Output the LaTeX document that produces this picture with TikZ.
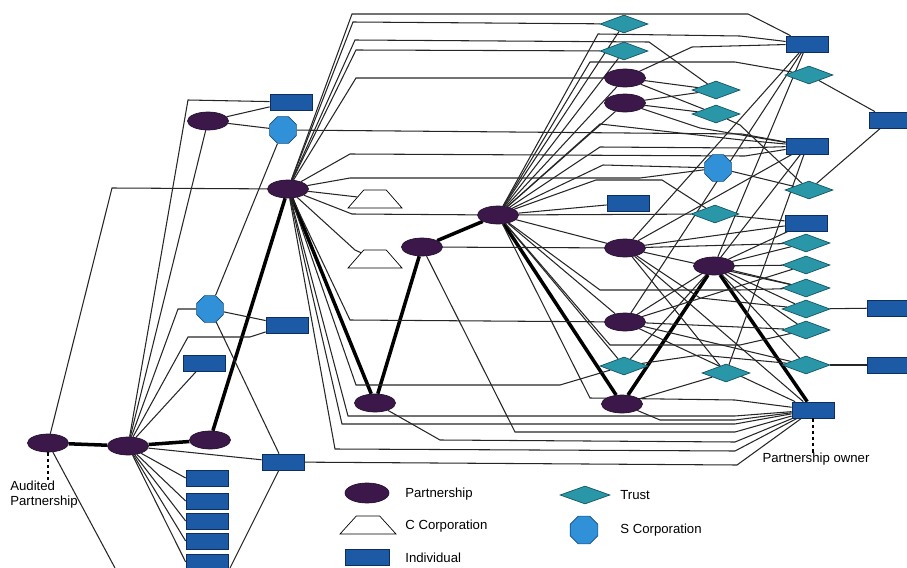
\documentclass[tikz,border=0pt]{standalone}
\usepackage{fontspec}
\setmainfont{Liberation Sans}
\usetikzlibrary{shapes.geometric,backgrounds}
\definecolor{plum}{HTML}{3B1849}
\definecolor{plumline}{HTML}{24102E}
\definecolor{indblue}{HTML}{1D5AA6}
\definecolor{indline}{HTML}{0E2F5E}
\definecolor{trteal}{HTML}{2A97A8}
\definecolor{trline}{HTML}{135562}
\definecolor{scblue}{HTML}{3090D8}
\definecolor{scline}{HTML}{164E80}
\tikzset{
  partner/.style={ellipse, draw=plumline, fill=plum, minimum width=0.82cm, minimum height=0.36cm, inner sep=0pt},
  indiv/.style={rectangle, draw=indline, fill=indblue, minimum width=0.84cm, minimum height=0.32cm, inner sep=0pt},
  trust/.style={diamond, draw=trline, fill=trteal, minimum width=0.96cm, minimum height=0.36cm, inner sep=0pt},
  scorp/.style={regular polygon, regular polygon sides=8, draw=scline, fill=scblue, minimum size=0.58cm, inner sep=0pt},
  ccorp/.style={trapezium, trapezium stretches=true, trapezium left angle=55, trapezium right angle=55,
    draw=black, fill=white, minimum width=1.08cm, minimum height=0.36cm, inner sep=1pt},
  link/.style={draw=black!85, line width=0.6pt},
  own/.style={draw=black, line width=2pt},
  lbl/.style={font=\fontsize{7.5}{8.5}\selectfont, inner sep=0pt}
}

\begin{document}
\begin{tikzpicture}[x=0.02cm, y=-0.02cm]
  \useasboundingbox (0,0) rectangle (907,568);
  %% partnerships
  \node[partner] (p1)  at (48,443) {};
  \node[partner] (p2)  at (128,446) {};
  \node[partner] (p3)  at (210,440) {};
  \node[partner] (p4)  at (208,121) {};
  \node[partner] (p5)  at (288,189) {};
  \node[partner] (p6)  at (375,403) {};
  \node[partner] (p7)  at (422,247) {};
  \node[partner] (p8)  at (498,215) {};
  \node[partner] (p9)  at (625,78) {};
  \node[partner] (p10) at (625,103) {};
  \node[partner] (p11) at (625,248) {};
  \node[partner] (p12) at (625,322) {};
  \node[partner] (p13) at (622,404) {};
  \node[partner] (p14) at (714,266) {};
  %% individuals
  \node[indiv] (ind1)  at (291,102) {};
  \node[indiv] (ind2)  at (287,325) {};
  \node[indiv] (ind3)  at (204,363) {};
  \node[indiv] (ind4)  at (283,462) {};
  \node[indiv] (ind5)  at (207,478) {};
  \node[indiv] (ind6)  at (207,501) {};
  \node[indiv] (ind7)  at (207,521) {};
  \node[indiv] (ind8)  at (207,541) {};
  \node[indiv] (ind9)  at (207,562) {};
  \node[indiv] (ind10) at (807,44) {};
  \node[indiv] (ind11) at (890,120) {};
  \node[indiv] (ind12) at (807,146) {};
  \node[indiv] (ind13) at (628,203) {};
  \node[indiv] (ind14) at (806,223) {};
  \node[indiv] (ind15) at (888,308) {};
  \node[indiv] (ind16) at (888,365) {};
  \node[indiv] (ind17) at (813,410) {};
  %% trusts
  \node[trust] (tr1)  at (624,24) {};
  \node[trust] (tr2)  at (624,51) {};
  \node[trust] (tr3)  at (716,90) {};
  \node[trust] (tr4)  at (716,114) {};
  \node[trust] (tr5)  at (809,75) {};
  \node[trust] (tr6)  at (809,190) {};
  \node[trust] (tr7)  at (715,214) {};
  \node[trust] (tr8)  at (806,243) {};
  \node[trust] (tr9)  at (806,265) {};
  \node[trust] (tr10) at (806,288) {};
  \node[trust] (tr11) at (806,309) {};
  \node[trust] (tr12) at (806,330) {};
  \node[trust] (tr13) at (806,365) {};
  \node[trust] (tr14) at (624,366) {};
  \node[trust] (tr15) at (726,373) {};
  %% S and C corporations
  \node[scorp] (sc1) at (283,130) {};
  \node[scorp] (sc2) at (210,309) {};
  \node[scorp] (sc3) at (718,168) {};
  \node[ccorp] (cc1) at (375,199) {};
  \node[ccorp] (cc2) at (375,259) {};
  %% free ends at the bottom edge
  \coordinate (exitA) at (115,568);
  \coordinate (exitB) at (230,568);
  %% labels
  \node[lbl, anchor=north west, align=left] (auditlbl) at (10,481) {Audited\\Partnership};
  \node[lbl] (ownerlbl) at (816,459) {Partnership owner};
  \draw[line width=1.2pt, dash pattern=on 2pt off 1.5pt] (p1) -- (p1 |- auditlbl.north);
  \draw[line width=1.2pt, dash pattern=on 2pt off 1.5pt] (ind17) -- (ind17 |- ownerlbl.north);
  %% legend
  \node[partner, minimum width=0.88cm, minimum height=0.4cm] (keyp) at (367,493) {};
  \node[ccorp, minimum width=1.12cm] (keyc) at (368,525) {};
  \node[indiv, minimum width=0.88cm] (keyi) at (367,557) {};
  \node[trust, minimum width=1.0cm] (keyt) at (585,495) {};
  \node[scorp, minimum size=0.6cm] (keys) at (584,530) {};
  \node[lbl, anchor=west] at (405,494) {Partnership};
  \node[lbl, anchor=west] at (405,526) {C Corporation};
  \node[lbl, anchor=west] at (405,558) {Individual};
  \node[lbl, anchor=west] at (620,495) {Trust};
  \node[lbl, anchor=west] at (620,530) {S Corporation};

  \begin{scope}[on background layer]
  %% chain of ownership
  \draw[own] (p1) -- (p2) -- (p3) -- (p5) -- (p6) -- (p7) -- (p8) -- (p13) -- (p14) -- (ind17);
  %% left side
  \draw[link] (p1) -- (112,188) -- (p5);
  \draw[link] (p1) -- (exitA);
  \draw[link] (p2) -- (188,100) -- (ind1);
  \draw[link] (p2) -- (p4);
  \draw[link] (p2) -- (178,309) -- (sc2);
  \draw[link] (p2) -- (188,337) -- (250,337) -- (ind2);
  \draw[link] (p2) -- (ind3);
  \draw[link] (p2) -- (ind4);
  \draw[link] (p2) -- (ind5.west);
  \draw[link] (p2) -- (ind6.west);
  \draw[link] (p2) -- (ind7.west);
  \draw[link] (p2) -- (ind8.west);
  \draw[link] (p2) -- (ind9.west);
  \draw[link] (p4) -- (ind1);
  \draw[link] (p4) -- (sc1);
  \draw[link] (sc1) -- (sc2);
  \draw[link] (sc2) -- (ind2);
  \draw[link] (sc2) -- (ind4);
  \draw[link] (ind4) -- (exitB);
  \draw[link] (ind4) -- (737,465) -- (ind17);
  \draw[link] (sc1) -- (742,134) -- (ind12);
  %% fan of p5
  \draw[link] (p5) -- (352,14) -- (748,14) -- (ind10);
  \draw[link] (p5) -- (353,22) -- (tr1);
  \draw[link] (p5) -- (355,40) -- (649,42) -- (tr3);
  \draw[link] (p5) -- (356,50) -- (tr2);
  \draw[link] (p5) -- (356,78) -- (p9);
  \draw[link] (p5) -- (350,154) -- (745,156) -- (ind12);
  \draw[link] (p5) -- (350,178) -- (640,178) -- (sc3);
  \draw[link] (p5) -- (cc1);
  \draw[link] (p5) -- (352,214) -- (p8);
  \draw[link] (p5) -- (355,250) -- (cc2);
  \draw[link] (p5) -- (350,320) -- (p12);
  \draw[link] (p5) -- (356,385) -- (560,385) -- (tr14);
  \draw[link] (p5) -- (348,416) -- (735,416) -- (ind17);
  \draw[link] (p5) -- (342,424) -- (735,424) -- (ind17);
  \draw[link] (p5) -- (335,449) -- (735,451) -- (ind17);
  \draw[link] (p6) -- (440,440) -- (735,442) -- (ind17);
  \draw[link] (p7) -- (515,432) -- (735,432) -- (ind17);
  \draw[link] (p7) -- (p11);
  %% fan of p8
  \draw[link] (p8) -- (tr1);
  \draw[link] (p8) -- (tr2);
  \draw[link] (p8) -- (p9);
  \draw[link] (p8) -- (p10);
  \draw[link] (p8) -- (590,62) -- (735,62) -- (tr5);
  \draw[link] (p8) -- (598,34) -- (740,36) -- (ind10);
  \draw[link] (p8) -- (600,124) -- (742,140) -- (ind12);
  \draw[link] (p8) -- (600,147) -- (742,148) -- (ind12);
  \draw[link] (p8) -- (603,165) -- (sc3);
  \draw[link] (p8) -- (596,180) -- (662,180) -- (tr7);
  \draw[link] (p8) -- (ind13);
  \draw[link] (p8) -- (tr7);
  \draw[link] (p8) -- (p11);
  \draw[link] (p8) -- (p12);
  \draw[link] (p8) -- (600,290) -- (740,290) -- (tr10);
  \draw[link] (p8) -- (610,345) -- (740,345) -- (tr12);
  \draw[link] (p8) -- (tr14);
  \draw[link] (p8) -- (590,398) -- (735,400) -- (ind17);
  %% upper right
  \draw[link] (p9) -- (692,47) -- (ind10);
  \draw[link] (p9) -- (tr3);
  \draw[link] (p9) -- (tr4);
  \draw[link] (p10) -- (tr3);
  \draw[link] (p10) -- (tr4);
  \draw[link] (p10) -- (700,128) -- (ind12);
  \draw[link] (tr4) -- (740,125) -- (tr6);
  \draw[link] (tr5) -- (ind11);
  \draw[link] (tr6) -- (ind11);
  \draw[link] (sc3) -- (tr6);
  \draw[link] (tr7) -- (ind14);
  \draw[link] (ind10) -- (p11);
  \draw[link] (ind10) -- (p12);
  \draw[link] (ind10) -- (p14);
  \draw[link] (ind12) -- (p11);
  \draw[link] (ind12) -- (p14);
  \draw[link] (ind12) -- (tr15);
  %% p11, p12 and p14
  \draw[link] (p11) -- (tr8);
  \draw[link] (p11) -- (700,298) -- (tr11);
  \draw[link] (p11) -- (tr10);
  \draw[link] (p11) -- (tr15);
  \draw[link] (p11) -- (ind17);
  \draw[link] (p11) -- (ind14);
  \draw[link] (p12) -- (tr12);
  \draw[link] (p12) -- (tr13);
  \draw[link] (p12) -- (ind17);
  \draw[link] (p12) -- (tr9);
  \draw[link] (p14) -- (tr8);
  \draw[link] (p14) -- (tr9);
  \draw[link] (p14) -- (tr10);
  \draw[link] (p14) -- (tr11);
  \draw[link] (p14) -- (tr12);
  \draw[link] (p14) -- (tr13);
  \draw[link] (p14) -- (ind14);
  \draw[link] (p14) -- (p12);
  \draw[link] (p14) -- (tr14);
  \draw[link] (tr11) -- (ind15);
  \draw[link] (tr13) -- (ind16);
  \draw[link] (tr14) -- (700,355) -- (tr13);
  \draw[link] (tr15) -- (p13);
  \draw[link] (p13) -- (660,420) -- (735,420) -- (ind17);
  \end{scope}
\end{tikzpicture}
\end{document}
